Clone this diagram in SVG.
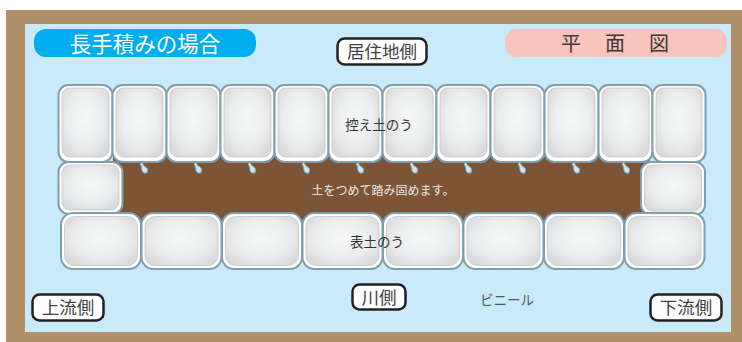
<svg xmlns="http://www.w3.org/2000/svg" width="742" height="342" viewBox="0 0 742 342">
  <defs>
    <radialGradient id="bagFill" cx="0.5" cy="0.45" r="0.62">
      <stop offset="0" stop-color="#f6f7f7"/>
      <stop offset="0.6" stop-color="#ecedee"/>
      <stop offset="1" stop-color="#d9dadc"/>
    </radialGradient>
    <style>
      .outer{fill:#ffffff;stroke:#7f9dac;stroke-width:2}
      .inner{fill:url(#bagFill);stroke:#cdc3bd;stroke-width:0.8}
      .drip{fill:#d6e4ec;stroke:#7f9dac;stroke-width:1}
      .label{fill:#ffffff;stroke:#222222;stroke-width:2.5}
      .jp{font-family:"Noto Sans CJK JP","Noto Sans",sans-serif}
      .lt{font-size:17.5px;fill:#404040;text-anchor:middle}
      .bagtxt{font-size:13.5px;fill:#333333;text-anchor:middle}
    </style>
  </defs>

  <!-- frame and background -->
  <rect x="6" y="10" width="736" height="332" fill="#b09068"/>
  <rect x="25" y="24" width="706" height="308" fill="#c8eafb"/>

  <!-- soil fill -->
  <rect x="113" y="150" width="537" height="72" fill="#7b5535"/>

  <!-- top row: back bags -->
  <g id="back-bags">
    <g id="back-1"><rect class="outer" x="58.5" y="85" width="54" height="77" rx="10"/><rect class="inner" x="62" y="88" width="47" height="69" rx="8"/></g>
    <g id="back-2"><rect class="outer" x="112.5" y="85" width="54" height="77" rx="10"/><rect class="inner" x="116" y="88" width="47" height="69" rx="8"/></g>
    <g id="back-3"><rect class="outer" x="166.5" y="85" width="54" height="77" rx="10"/><rect class="inner" x="170" y="88" width="47" height="69" rx="8"/></g>
    <g id="back-4"><rect class="outer" x="220.5" y="85" width="54" height="77" rx="10"/><rect class="inner" x="224" y="88" width="47" height="69" rx="8"/></g>
    <g id="back-5"><rect class="outer" x="274.5" y="85" width="54" height="77" rx="10"/><rect class="inner" x="278" y="88" width="47" height="69" rx="8"/></g>
    <g id="back-6"><rect class="outer" x="328.5" y="85" width="54" height="77" rx="10"/><rect class="inner" x="332" y="88" width="47" height="69" rx="8"/></g>
    <g id="back-7"><rect class="outer" x="382.5" y="85" width="54" height="77" rx="10"/><rect class="inner" x="386" y="88" width="47" height="69" rx="8"/></g>
    <g id="back-8"><rect class="outer" x="436.5" y="85" width="54" height="77" rx="10"/><rect class="inner" x="440" y="88" width="47" height="69" rx="8"/></g>
    <g id="back-9"><rect class="outer" x="490.5" y="85" width="54" height="77" rx="10"/><rect class="inner" x="494" y="88" width="47" height="69" rx="8"/></g>
    <g id="back-10"><rect class="outer" x="544.5" y="85" width="54" height="77" rx="10"/><rect class="inner" x="548" y="88" width="47" height="69" rx="8"/></g>
    <g id="back-11"><rect class="outer" x="598.5" y="85" width="54" height="77" rx="10"/><rect class="inner" x="602" y="88" width="47" height="69" rx="8"/></g>
    <g id="back-12"><rect class="outer" x="652.5" y="85" width="53" height="77" rx="10"/><rect class="inner" x="656" y="88" width="46" height="69" rx="8"/></g>
    <text class="jp bagtxt" x="379" y="130">控え土のう</text>
  </g>

  <!-- tied ends hanging under the back bags -->
  <g id="ties">
    <path class="drip" d="M142,162 q1,4 4,5 q3,2 1,6 q-4,1 -5,-2 q0,-4 -2,-7 z"/>
    <path class="drip" d="M196,162 q1,4 4,5 q3,2 1,6 q-4,1 -5,-2 q0,-4 -2,-7 z"/>
    <path class="drip" d="M250,162 q1,4 4,5 q3,2 1,6 q-4,1 -5,-2 q0,-4 -2,-7 z"/>
    <path class="drip" d="M304,162 q1,4 4,5 q3,2 1,6 q-4,1 -5,-2 q0,-4 -2,-7 z"/>
    <path class="drip" d="M358,162 q1,4 4,5 q3,2 1,6 q-4,1 -5,-2 q0,-4 -2,-7 z"/>
    <path class="drip" d="M412,162 q1,4 4,5 q3,2 1,6 q-4,1 -5,-2 q0,-4 -2,-7 z"/>
    <path class="drip" d="M466,162 q1,4 4,5 q3,2 1,6 q-4,1 -5,-2 q0,-4 -2,-7 z"/>
    <path class="drip" d="M520,162 q1,4 4,5 q3,2 1,6 q-4,1 -5,-2 q0,-4 -2,-7 z"/>
    <path class="drip" d="M574,162 q1,4 4,5 q3,2 1,6 q-4,1 -5,-2 q0,-4 -2,-7 z"/>
    <path class="drip" d="M624,162 q1,4 4,5 q3,2 1,6 q-4,1 -5,-2 q0,-4 -2,-7 z"/>
  </g>

  <!-- middle row: end bags and soil label -->
  <g id="end-left"><rect class="outer" x="58.5" y="162" width="64" height="52" rx="10"/><rect class="inner" x="62" y="165" width="57" height="45" rx="8"/></g>
  <g id="end-right"><rect class="outer" x="641" y="162" width="64" height="53" rx="10"/><rect class="inner" x="644.5" y="165" width="57" height="46" rx="8"/></g>
  <g id="soil-label">
    <text class="jp" x="383" y="194.5" font-size="12" fill="#ece8e4" text-anchor="middle">土をつめて踏み固めます。</text>
  </g>

  <!-- bottom row: front bags -->
  <g id="front-bags">
    <g id="front-1"><rect class="outer" x="61" y="213" width="80" height="56" rx="12"/><rect class="inner" x="64.5" y="216.5" width="73" height="49" rx="10"/></g>
    <g id="front-2"><rect class="outer" x="141.5" y="213" width="80" height="56" rx="12"/><rect class="inner" x="145" y="216.5" width="73" height="49" rx="10"/></g>
    <g id="front-3"><rect class="outer" x="222" y="213" width="80" height="56" rx="12"/><rect class="inner" x="225.5" y="216.5" width="73" height="49" rx="10"/></g>
    <g id="front-4"><rect class="outer" x="302.5" y="213" width="80" height="56" rx="12"/><rect class="inner" x="306" y="216.5" width="73" height="49" rx="10"/></g>
    <g id="front-5"><rect class="outer" x="383" y="213" width="80" height="56" rx="12"/><rect class="inner" x="386.5" y="216.5" width="73" height="49" rx="10"/></g>
    <g id="front-6"><rect class="outer" x="463.5" y="213" width="80" height="56" rx="12"/><rect class="inner" x="467" y="216.5" width="73" height="49" rx="10"/></g>
    <g id="front-7"><rect class="outer" x="544" y="213" width="80" height="56" rx="12"/><rect class="inner" x="547.5" y="216.5" width="73" height="49" rx="10"/></g>
    <g id="front-8"><rect class="outer" x="624.5" y="213" width="80" height="56" rx="12"/><rect class="inner" x="628" y="216.5" width="73" height="49" rx="10"/></g>
    <text class="jp bagtxt" x="377" y="247">表土のう</text>
  </g>

  <!-- headings -->
  <g id="title">
    <rect x="34" y="29" width="222" height="28" rx="12" fill="#00aeef"/>
    <text class="jp" x="145" y="51.5" font-size="21.5" fill="#ffffff" text-anchor="middle">長手積みの場合</text>
  </g>
  <g id="plan-view">
    <rect x="505" y="29" width="222" height="28" rx="12" fill="#f9c4bc"/>
    <text class="jp" x="571 615 659" y="51" font-size="20" fill="#3a3a3a" text-anchor="middle">平面図</text>
  </g>

  <!-- side labels -->
  <g id="residential-side">
    <rect class="label" x="337.5" y="38.5" width="89" height="26" rx="7"/>
    <text class="jp lt" x="382" y="58">居住地側</text>
  </g>
  <g id="upstream-side">
    <rect class="label" x="32.5" y="294.5" width="71" height="26" rx="7"/>
    <text class="jp lt" x="68" y="314">上流側</text>
  </g>
  <g id="river-side">
    <rect class="label" x="352.5" y="284.5" width="53" height="25" rx="7"/>
    <text class="jp lt" x="379" y="303.5">川側</text>
  </g>
  <g id="downstream-side">
    <rect class="label" x="650.5" y="294.5" width="71" height="26" rx="7"/>
    <text class="jp lt" x="686" y="314">下流側</text>
  </g>
  <g id="vinyl-note">
    <text class="jp" x="507" y="304.5" font-size="13.5" fill="#555555" text-anchor="middle">ビニール</text>
  </g>
</svg>
